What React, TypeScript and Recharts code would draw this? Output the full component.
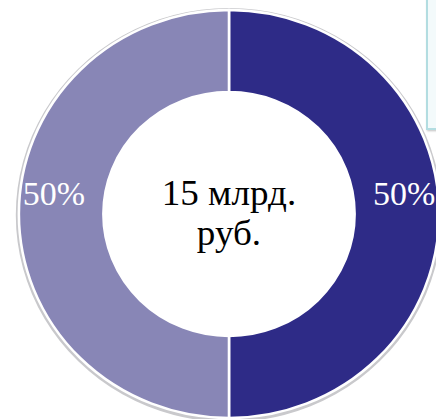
import { Pie, PieChart, Cell } from 'recharts'

const shares = ['Часть 1', 'Часть 2']
const values = [50, 50]
const colors = ['#2e2b87', '#8886b6']
const centerLines = ['15 млрд.', 'руб.']

const data = shares.map((name, i) => ({ name, value: values[i] }))
const ring = [{ name: 'shadow', value: 1 }]

const RADIAN = Math.PI / 180
const serif = "'Liberation Serif', 'Times New Roman', serif"

function renderLabel(props: any) {
  const { cx, cy, midAngle, percent } = props
  const r = 170
  const x = cx + r * Math.cos(-midAngle * RADIAN)
  const y = cy - 9
  return (
    <text x={x} y={y} fill="#ffffff" textAnchor="middle" fontFamily={serif} fontSize={33}>
      {`${Math.round(percent * 100)}%`}
    </text>
  )
}

export default function App() {
  return (
    <div style={{ position: 'absolute', left: 0, top: 0, width: 436, height: 419, background: '#fff', overflow: 'hidden' }}>
      <div
        style={{
          position: 'absolute',
          left: 426,
          top: -2,
          width: 30,
          height: 128,
          background: '#f3fafb',
          border: '2px solid #b3dde1',
          boxShadow: '1px 1px 2px rgba(0,0,0,0.25)',
        }}
      />
      <div style={{ position: 'absolute', left: 0, top: 0, transform: 'scaleX(1.03)', transformOrigin: '229px 214px' }}>
        <PieChart width={436} height={419} margin={{ top: 0, right: 0, bottom: 0, left: 0 }}>
          <Pie
            data={ring}
            dataKey="value"
            cx={229}
            cy={215}
            innerRadius={195}
            outerRadius={207}
            fill="#c9c9cc"
            stroke="none"
            isAnimationActive={false}
          />
          <Pie
            data={data}
            dataKey="value"
            nameKey="name"
            cx={229}
            cy={214}
            innerRadius={122}
            outerRadius={204}
            startAngle={90}
            endAngle={-270}
            stroke="#ffffff"
            strokeWidth={2.5}
            label={renderLabel}
            labelLine={false}
            isAnimationActive={false}
          >
            {data.map((d, i) => (
              <Cell key={d.name} fill={colors[i]} />
            ))}
          </Pie>
          <text x={229} y={205} textAnchor="middle" fill="#000" fontFamily={serif} fontSize={36}>
            <tspan x={229}>{centerLines[0]}</tspan>
            <tspan x={229} dy={40}>{centerLines[1]}</tspan>
          </text>
        </PieChart>
      </div>
    </div>
  )
}
